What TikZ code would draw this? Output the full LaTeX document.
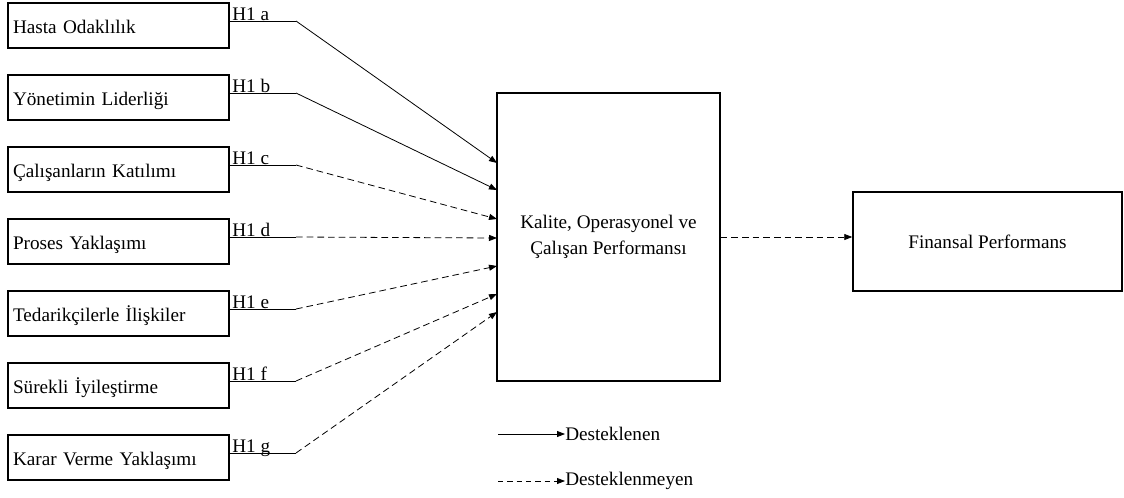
\documentclass[tikz,border=0pt]{standalone}
\usepackage{fontspec}
\setmainfont{Liberation Serif}
\usetikzlibrary{arrows.meta}
\begin{document}
\begin{tikzpicture}[x=0.75pt,y=-0.75pt,
  font=\fontsize{14.4}{19.3}\selectfont,
  box/.style={draw, line width=1.1pt, inner sep=0pt},
  leftbox/.style={box, minimum width=165.75pt, minimum height=33.75pt,
    text width=158.25pt, align=left, text height=11.5pt, text depth=0.25pt},
  hlab/.style={anchor=base west, inner sep=0pt},
  seg/.style={line width=0.6pt},
  sol/.style={line width=0.6pt, -{Triangle[length=6pt,width=4.5pt]}},
  dsh/.style={sol, dash pattern=on 5pt off 3pt},
  leg/.style={anchor=west, inner sep=0pt}]
\useasboundingbox (0,0) rectangle (1124,497);
% central and right boxes
\node[box, minimum width=167.25pt, minimum height=216pt, align=center] (ck) at (608.5,237)
  {Kalite, Operasyonel ve\\Çalışan Performansı};
\node[box, minimum width=201.75pt, minimum height=74.25pt] (fin) at (987.5,241.5) {Finansal Performans};
\draw[dsh] (ck.east) -- (ck.east -| fin.west);
% left boxes and hypotheses
\foreach \i/\L/\ty/\st/\txt in {
 1/a/163/sol/Hasta Odaklılık,
 2/b/190/sol/Yönetimin Liderliği,
 3/c/219/dsh/Çalışanların Katılımı,
 4/d/238/dsh/Proses Yaklaşımı,
 5/e/266/dsh/Tedarikçilerle İlişkiler,
 6/f/294/dsh/Sürekli İyileştirme,
 7/g/312/dsh/Karar Verme Yaklaşımı}{
  \pgfmathsetmacro\yt{3+72*(\i-1)}
  \node[leftbox] (b\i) at (118.5,\yt+22.5) {\txt};
  \node[hlab] (h\i) at (232,\yt+17) {H1 \L};
  \coordinate (k\i) at (296,\yt+18);
  \coordinate (t\i) at (497,\ty);
  \draw[seg] (b\i.east |- k\i) -- (k\i);
  \draw[\st] (k\i) -- (t\i);
}
% legend
\coordinate (ls1) at (498,434);
\coordinate (ls2) at (498,481);
\node[leg] (lg1) at (565,434) {Desteklenen};
\node[leg] (lg2) at (565,481) {Desteklenmeyen};
\draw[sol] (ls1) -- (lg1.west);
\draw[sol, dash pattern=on 4pt off 3pt] (ls2) -- (lg2.west);
\end{tikzpicture}
\end{document}
